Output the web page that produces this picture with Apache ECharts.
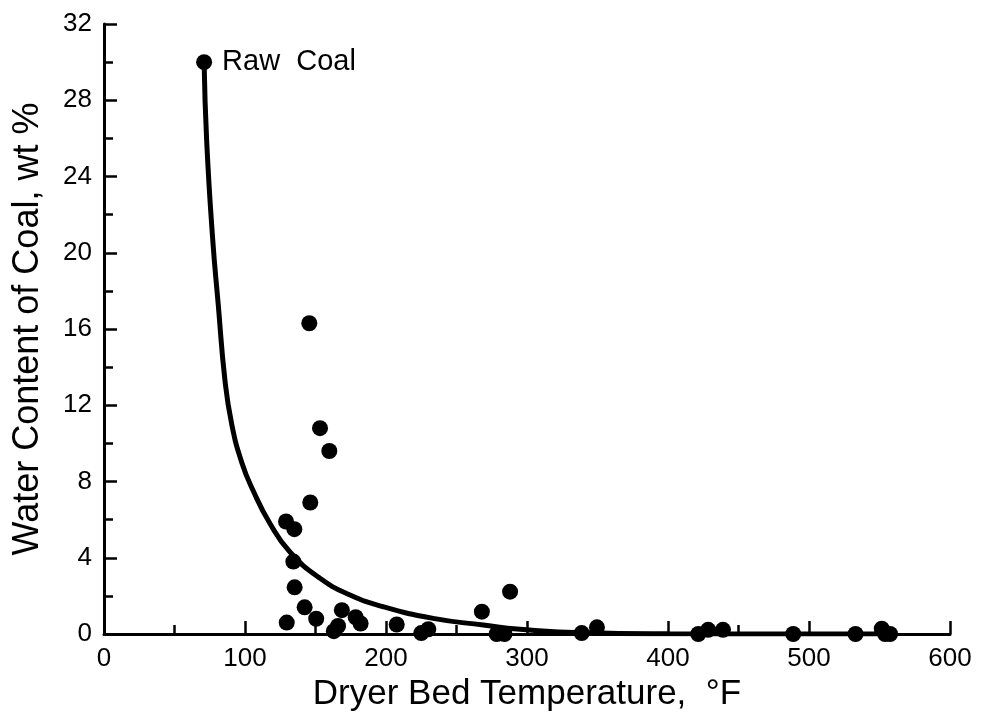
<!DOCTYPE html>
<html>
<head>
<meta charset="utf-8">
<script src="https://cdn.jsdelivr.net/npm/echarts@6/dist/echarts.min.js"></script>
<style>
html,body{margin:0;padding:0;background:#fff;}
#chart{width:981px;height:718px;}
</style>
</head>
<body>
<div id="chart"></div>
<script>
// Raw coal point
var rawCoalTemp = [71];
var rawCoalWater = [30];

// Measured points: dryer bed temperature (°F) and water content (wt %)
var pointTemp = [145.6, 153.2, 159.8, 146.3, 129.1, 135.0, 134.3, 135.2, 142.3, 129.6,
                 150.5, 168.7, 178.5, 182.0, 163.0, 166.0, 207.6, 225.0, 230.0, 268.0,
                 288.0, 278.5, 284.0, 338.8, 349.6, 421.5, 428.5, 439.0, 488.8, 533.0,
                 551.6, 554.0, 557.5];
var pointWater = [16.3, 10.8, 9.6, 6.9, 5.9, 5.5, 3.8, 2.45, 1.4, 0.6,
                  0.8, 1.25, 0.88, 0.55, 0.15, 0.42, 0.5, 0.05, 0.25, 1.17,
                  2.22, 0, 0, 0.05, 0.35, 0, 0.22, 0.22, 0, 0,
                  0.28, 0, 0];

// Fitted curve
var curveTemp = [71, 72.8, 77.1, 81.0, 85.8, 90.6, 97.7, 105.9, 117.7,
                 131.9, 153.2, 174.5, 198, 233.5, 269, 295, 340, 400, 480, 558];
var curveWater = [30, 25.9, 20.7, 17.3, 13.3, 11.0, 9.0, 7.5, 5.8,
                  4.3, 2.92, 2.05, 1.43, 0.82, 0.47, 0.25, 0.06, 0.01, 0, 0];

var xTitle = 'Dryer Bed Temperature,  \u00B0F';
var yTitle = 'Water Content of Coal, wt %';
var rawLabel = 'Raw  Coal';

function zip(a, b) { return a.map(function (v, i) { return [v, b[i]]; }); }

var FONT = 'Liberation Sans, Arial, Helvetica, sans-serif';
var chart = echarts.init(document.getElementById('chart'), null, {renderer: 'canvas'});
chart.setOption({
  backgroundColor: '#fff',
  animation: false,
  grid: {left: 104, right: 31, top: 24, bottom: 84, containLabel: false},
  xAxis: {
    type: 'value', min: 0, max: 600, interval: 100,
    name: xTitle, nameLocation: 'middle', nameGap: 42,
    nameTextStyle: {fontFamily: FONT, fontSize: 35, color: '#000'},
    axisLine: {show: true, onZero: false, lineStyle: {color: '#000', width: 3}},
    axisTick: {show: true, inside: true, length: 13, lineStyle: {color: '#000', width: 2.5}},
    minorTick: {show: true, splitNumber: 2, length: 9, lineStyle: {color: '#000', width: 2.5}},
    axisLabel: {fontFamily: FONT, fontSize: 26, color: '#000', margin: 12},
    splitLine: {show: false}
  },
  yAxis: {
    type: 'value', min: 0, max: 32, interval: 4,
    name: yTitle, nameLocation: 'middle', nameGap: 58, nameRotate: 90,
    nameTextStyle: {fontFamily: FONT, fontSize: 36, color: '#000'},
    axisLine: {show: true, onZero: false, lineStyle: {color: '#000', width: 3}},
    axisTick: {show: true, inside: true, length: 13, lineStyle: {color: '#000', width: 2.5}},
    minorTick: {show: true, splitNumber: 2, length: 9, lineStyle: {color: '#000', width: 2.5}},
    axisLabel: {fontFamily: FONT, fontSize: 26, color: '#000', margin: 12},
    splitLine: {show: false}
  },
  series: [
    {
      type: 'line', data: zip(curveTemp, curveWater),
      showSymbol: false, symbol: 'none',
      smooth: 0.5,
      lineStyle: {color: '#000', width: 5},
      z: 2, silent: true
    },
    {
      type: 'scatter', data: zip(pointTemp, pointWater),
      symbol: 'circle', symbolSize: 16,
      itemStyle: {color: '#000', opacity: 1}, clip: false, z: 3
    },
    {
      type: 'scatter', data: zip(rawCoalTemp, rawCoalWater),
      symbol: 'circle', symbolSize: 16,
      itemStyle: {color: '#000', opacity: 1}, clip: false, z: 3,
      label: {show: true, position: 'right', distance: 10, formatter: rawLabel,
              fontFamily: FONT, fontSize: 29, color: '#000', opacity: 1}
    }
  ]
});
</script>
</body>
</html>
